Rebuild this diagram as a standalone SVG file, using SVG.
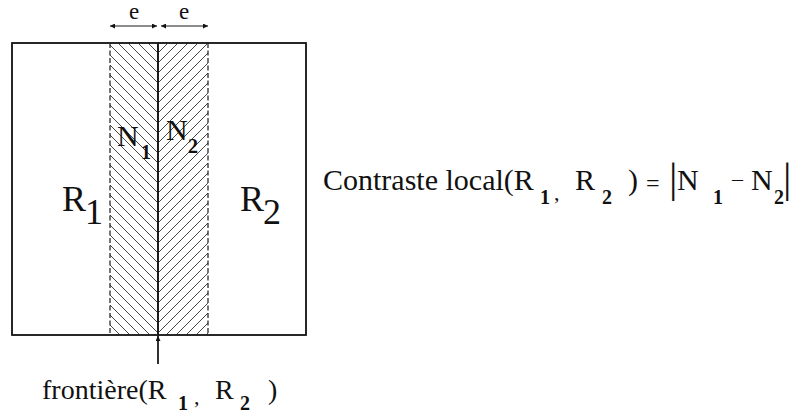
<svg xmlns="http://www.w3.org/2000/svg" width="803" height="415" viewBox="0 0 803 415">
<style>
  .t { font-family: "Liberation Serif", "Times New Roman", serif; fill: #111; }
  .sub { font-weight: bold; }
  .ln { stroke: #1a1a1a; fill: none; }
  .dash { stroke: #1a1a1a; stroke-width: 1.2; stroke-dasharray: 5 2.5; fill: none; }
</style>
<defs>
  <pattern id="hatchL" patternUnits="userSpaceOnUse" x="8" y="3" width="10" height="10">
    <path d="M-1,-1 L11,11 M-1,9 L1,11 M9,-1 L11,1" stroke="#333" stroke-width="0.9"/>
  </pattern>
  <pattern id="hatchR" patternUnits="userSpaceOnUse" x="8" y="3" width="10" height="10">
    <path d="M-1,11 L11,-1 M-1,1 L1,-1 M9,11 L11,9" stroke="#333" stroke-width="0.9"/>
  </pattern>
  <marker id="ah" viewBox="0 0 10 10" refX="10" refY="5" markerWidth="7" markerHeight="5" markerUnits="userSpaceOnUse" orient="auto-start-reverse">
    <path d="M0,0 L10,5 L0,10 z" fill="#111"/>
  </marker>
</defs>
<rect x="0" y="0" width="803" height="415" fill="#fff"/>

<g id="region-R1">
  <rect x="12" y="43" width="146" height="292" fill="#fff" class="ln" stroke-width="1.5"/>
  <text class="t" font-family="Liberation Serif, serif" font-size="36"><tspan x="62" y="211">R</tspan><tspan x="85" y="224">1</tspan></text>
</g>
<g id="region-R2">
  <rect x="158" y="43" width="148" height="292" fill="#fff" class="ln" stroke-width="1.5"/>
  <text class="t" font-family="Liberation Serif, serif" font-size="36"><tspan x="240" y="211">R</tspan><tspan x="263" y="224">2</tspan></text>
</g>

<g id="band-N1">
  <rect x="110" y="43" width="48" height="292" fill="url(#hatchL)"/>
  <line x1="110" y1="43" x2="110" y2="335" class="dash"/>
  <text class="t" font-family="Liberation Serif, serif"><tspan x="117" y="146" font-size="30">N</tspan><tspan x="141" y="159" font-size="20" class="sub">1</tspan></text>
</g>
<g id="band-N2">
  <rect x="158" y="43" width="50" height="292" fill="url(#hatchR)"/>
  <line x1="208" y1="43" x2="208" y2="335" class="dash"/>
  <text class="t" font-family="Liberation Serif, serif"><tspan x="166" y="140" font-size="30">N</tspan><tspan x="188" y="153" font-size="20" class="sub">2</tspan></text>
</g>

<g id="frontier">
  <line x1="158" y1="43" x2="158" y2="335" class="ln" stroke-width="1.8"/>
  <rect x="12" y="43" width="294" height="292" class="ln" stroke-width="1.5"/>
  <text class="t" font-family="Liberation Serif, serif" font-size="28"><tspan x="42" y="399">frontière(R</tspan><tspan x="178" y="410" font-size="20" class="sub">1</tspan><tspan x="194" y="404" font-size="22">,</tspan><tspan x="215" y="399">R</tspan><tspan x="240" y="410" font-size="20" class="sub">2</tspan><tspan x="268" y="399">)</tspan></text>
</g>

<g id="width-labels">
  <text class="t" font-family="Liberation Serif, serif" font-size="23" text-anchor="middle" x="134" y="19">e</text>
  <text class="t" font-family="Liberation Serif, serif" font-size="23" text-anchor="middle" x="184" y="19">e</text>
</g>

<g id="formula">
  <text class="t" font-family="Liberation Serif, serif" font-size="30"><tspan x="323" y="190">Contraste local(R</tspan><tspan x="540" y="204" font-size="20" class="sub">1</tspan><tspan x="554" y="200" font-size="22">,</tspan><tspan x="575" y="190">R</tspan><tspan x="602" y="204" font-size="20" class="sub">2</tspan><tspan x="628" y="190">)</tspan><tspan x="646" y="191" font-size="24">=</tspan><tspan x="669" y="192" font-size="42">|</tspan><tspan x="677" y="190">N</tspan><tspan x="713" y="204" font-size="20" class="sub">1</tspan><tspan x="732" y="186" font-size="22">–</tspan><tspan x="751" y="190">N</tspan><tspan x="774" y="204" font-size="20" class="sub">2</tspan><tspan x="783" y="192" font-size="42">|</tspan></text>
</g>

<g id="connectors">
  <line x1="110" y1="26" x2="157" y2="26" class="ln" stroke-width="1.2" marker-start="url(#ah)" marker-end="url(#ah)"/>
  <line x1="161" y1="26" x2="208" y2="26" class="ln" stroke-width="1.2" marker-start="url(#ah)" marker-end="url(#ah)"/>
  <line x1="158" y1="364" x2="158" y2="336" class="ln" stroke-width="1.8" marker-end="url(#ah)"/>
</g>
</svg>
